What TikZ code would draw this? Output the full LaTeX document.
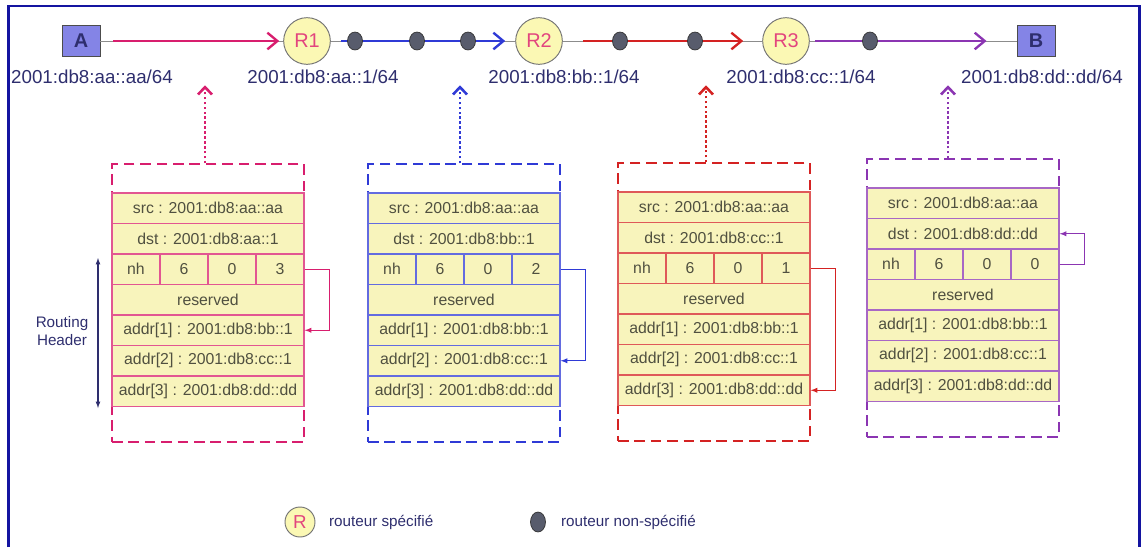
\documentclass[tikz,border=0pt]{standalone}
\usepackage{xcolor}
\usepackage{fontspec}
\setmainfont{Liberation Sans}
\usepackage{tikz}
\usetikzlibrary{calc}
\usetikzlibrary{arrows.meta}
\usetikzlibrary{shapes.geometric}
\usetikzlibrary{positioning}

\definecolor{frm}{HTML}{1414A0}
\definecolor{ink}{HTML}{2E2E6E}
\definecolor{pk}{HTML}{D81E6E}
\definecolor{bl}{HTML}{2F3AD6}
\definecolor{rd}{HTML}{D42222}
\definecolor{pu}{HTML}{8B35B2}
\definecolor{rowfill}{HTML}{F8F4BC}
\definecolor{rowtxt}{HTML}{505040}
\definecolor{hostfill}{HTML}{8484E6}
\definecolor{rtrfill}{HTML}{FBF8B4}
\definecolor{rtrtxt}{HTML}{E2457E}
\definecolor{relayfill}{HTML}{585C6C}

\tikzset{>=latex}
\tikzstyle{host} = [rectangle, draw=black!70, line width=0.8pt, fill=hostfill, minimum width=1.14cm, minimum height=0.93cm, text=ink, font=\fontsize{17}{20}\selectfont\bfseries]
\tikzstyle{router} = [circle, draw=black!55, line width=0.8pt, fill=rtrfill, minimum size=1.4cm, inner sep=0pt, text=rtrtxt, font=\fontsize{17}{20}\selectfont]
\tikzstyle{relay} = [ellipse, draw=black!80, line width=0.6pt, fill=relayfill, minimum width=0.45cm, minimum height=0.54cm, inner sep=0pt]
\tikzstyle{ip} = [text=ink, font=\fontsize{16}{19}\selectfont]
\tikzstyle{link} = [draw=black!45, line width=0.6pt]
\tikzstyle{hop} = [line width=2pt, -{Straight Barb[length=0.3cm, width=0.5cm]}]
\tikzstyle{hdrrow} = [rectangle, fill=rowfill, line width=1pt, minimum width=5.76cm, minimum height=0.915cm, inner sep=0pt, text=rowtxt, font=\fontsize{13.5}{16}\selectfont]
\tikzstyle{hdrcell} = [hdrrow, minimum width=1.44cm]
\tikzstyle{pkt} = [rectangle, dash pattern=on 9pt off 5pt, line width=1.2pt, minimum width=5.76cm, minimum height=8.34cm]
\tikzstyle{snap} = [dotted, line width=2.2pt, -{Straight Barb[length=0.22cm, width=0.42cm]}]
\tikzstyle{ptr} = [line width=1pt, -latex]
\tikzstyle{legend} = [text=ink, font=\fontsize{13}{16}\selectfont]

\begin{document}
\begin{tikzpicture}[x=0.03cm, y=-0.03cm]
\useasboundingbox (0,0) rectangle (1142,547);
\draw [frm, line width=1.8pt] (8.5,547) -- (8.5,6) -- (1139.5,6) -- (1139.5,547);

% hosts and routers
\node [host] (A) at (81,41) {A};
\node [router] (R1) at (307,41) {R1};
\node [router] (R2) at (539,41) {R2};
\node [router] (R3) at (786,41) {R3};
\node [host] (B) at (1036,41) {B};

\draw [link] (A) -- (R1);
\draw [link] (R1) -- (R2);
\draw [link] (R2) -- (R3);
\draw [link] (R3) -- (B);
\draw [hop, pk, shorten <=0.39cm, shorten >=0.12cm] (A) -- (R1);
\draw [hop, bl, shorten <=0.3cm, shorten >=0.3cm] (R1) -- (R2);
\draw [hop, rd, shorten <=0.6cm, shorten >=0.57cm] (R2) -- (R3);
\draw [hop, pu, shorten <=0.15cm, shorten >=0.9cm] (R3) -- (B);

\node [relay] (d1) at (355,41) {};
\node [relay] (d2) at (417,41) {};
\node [relay] (d3) at (468,41) {};
\node [relay] (d4) at (620,41) {};
\node [relay] (d5) at (695,41) {};
\node [relay] (d6) at (870,41) {};

\node [ip] (ipA) at (92,77) {2001:db8:aa::aa/64};
\node [ip] (ipR1) at (323,77) {2001:db8:aa::1/64};
\node [ip] (ipR2) at (564,77) {2001:db8:bb::1/64};
\node [ip] (ipR3) at (801,77) {2001:db8:cc::1/64};
\node [ip] (ipB) at (1042,77) {2001:db8:dd::dd/64};

% packets
\foreach \n/\x/\y/\col/\dest/\nxt/\tgt/\dx in {1/112/193/pk/aa::1/3/ad1/-3, 2/368/193/bl/bb::1/2/ad2/-4, 3/618/192/rd/cc::1/1/ad3/-8, 4/867/188/pu/dd::dd/0/dst/-15}
{
  \node [pkt, draw=\col] (b\n) at (\x+96, \y+110) {};
  \node [hdrrow, draw=\col!75!white] (b\n-src) at (\x+96, \y+15.25) {src : 2001:db8:aa::aa};
  \node [hdrrow, draw=\col!75!white] (b\n-dst) at (\x+96, \y+45.75) {dst : 2001:db8:\dest};
  \node [hdrcell, draw=\col!75!white] (b\n-nh) at (\x+24, \y+76.25) {nh};
  \node [hdrcell, draw=\col!75!white] (b\n-six) at (\x+72, \y+76.25) {6};
  \node [hdrcell, draw=\col!75!white] (b\n-zero) at (\x+120, \y+76.25) {0};
  \node [hdrcell, draw=\col!75!white] (b\n-sl) at (\x+168, \y+76.25) {\nxt};
  \node [hdrrow, draw=\col!75!white] (b\n-rsv) at (\x+96, \y+106.75) {reserved};
  \node [hdrrow, draw=\col!75!white] (b\n-ad1) at (\x+96, \y+137.25) {addr[1] : 2001:db8:bb::1};
  \node [hdrrow, draw=\col!75!white] (b\n-ad2) at (\x+96, \y+167.75) {addr[2] : 2001:db8:cc::1};
  \node [hdrrow, draw=\col!75!white] (b\n-ad3) at (\x+96, \y+198.25) {addr[3] : 2001:db8:dd::dd};
  \draw [snap, \col] ($(b\n.north)+(\dx,0)$) -- ++(0,115-\y);
  \draw [ptr, \col] (b\n-sl.east) -- ++(25,0) |- (b\n-\tgt.east);
}

% routing header
\node [legend, align=center] (rh) at (62,331) {Routing\\Header};
\coordinate (rhtop) at (98,258);
\coordinate (rhbot) at (98,408);
\draw [latex-latex, ink, line width=0.9pt] (rhtop) -- (rhbot);

% legend
\node [router, minimum size=0.9cm, font=\fontsize{16}{19}\selectfont] (legR) at (300,522) {R};
\node [legend, anchor=west] (legRtxt) at (325,522) {routeur spécifié};
\node [relay, minimum width=0.45cm, minimum height=0.6cm] (legD) at (538,522) {};
\node [legend, anchor=west] (legDtxt) at (557,522) {routeur non-spécifié};
\end{tikzpicture}
\end{document}
